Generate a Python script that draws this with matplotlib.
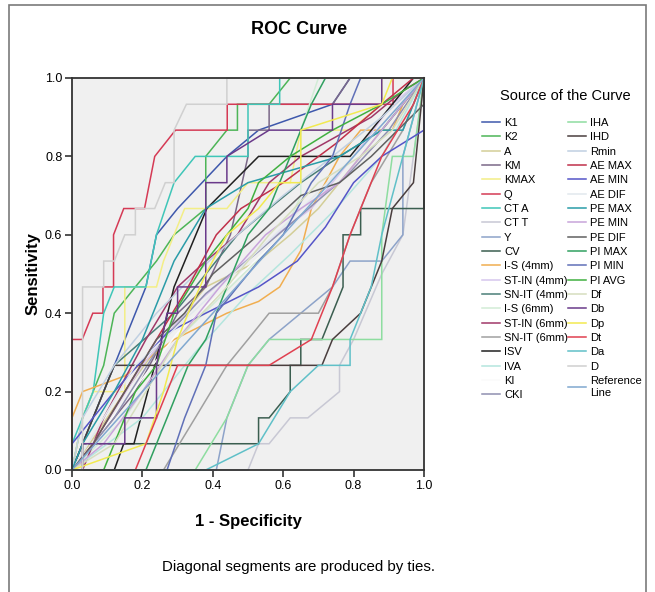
import matplotlib
matplotlib.use("Agg")
import matplotlib.pyplot as plt
from matplotlib.patches import Rectangle

# ---------------- data (1 - specificity, sensitivity) ----------------
k1 = [(0,0),(0.03,0.067),(0.09,0.2),(0.15,0.333),(0.21,0.467),(0.24,0.6),(0.3,0.667),(0.44,0.8),(0.53,0.867),(0.74,0.933),(0.79,1.0),(1,1)]
k2 = [(0,0),(0.03,0.133),(0.09,0.267),(0.12,0.4),(0.18,0.467),(0.24,0.533),(0.29,0.6),(0.38,0.667),(0.38,0.8),(0.44,0.867),(0.47,0.867),(0.47,0.933),(0.56,0.933),(0.62,1.0),(1,1)]
a = [(0,0),(0.15,0.2),(0.26,0.333),(0.38,0.467),(0.53,0.533),(0.62,0.6),(0.7,0.667),(0.82,0.8),(0.88,0.867),(0.94,0.933),(1,1)]
km = [(0,0),(0.06,0.067),(0.18,0.2),(0.26,0.333),(0.3,0.4),(0.38,0.467),(0.45,0.6),(0.5,0.8),(0.5,0.867),(0.56,0.867),(0.56,0.933),(0.74,0.933),(0.79,1.0),(1,1)]
kmax = [(0,0),(0.03,0.133),(0.06,0.2),(0.15,0.2),(0.15,0.467),(0.24,0.467),(0.26,0.533),(0.29,0.6),(0.32,0.667),(0.44,0.667),(0.5,0.733),(0.62,0.733),(0.65,0.867),(0.79,0.867),(0.88,0.933),(0.88,1.0),(1,1)]
q = [(0,0),(0,0.333),(0.029,0.333),(0.059,0.4),(0.088,0.4),(0.088,0.467),(0.118,0.467),(0.118,0.6),(0.147,0.667),(0.206,0.667),(0.235,0.8),(0.294,0.867),(0.441,0.867),(0.441,0.933),(0.912,0.933),(0.912,1.0),(1,1)]
ct_a = [(0,0),(0,0.067),(0.03,0.133),(0.06,0.2),(0.09,0.4),(0.12,0.467),(0.21,0.467),(0.24,0.6),(0.265,0.667),(0.29,0.733),(0.35,0.8),(0.5,0.8),(0.5,0.933),(0.59,0.933),(0.59,1.0),(1,1)]
ct_t = [(0,0),(0.5,0),(0.53,0.067),(0.56,0.067),(0.62,0.133),(0.67,0.133),(0.76,0.2),(0.76,0.267),(0.8,0.333),(0.88,0.5),(0.94,0.6),(1,1)]
y_ = [(0,0),(0.41,0),(0.44,0.133),(0.5,0.267),(0.56,0.333),(0.65,0.4),(0.74,0.467),(0.79,0.533),(0.88,0.533),(0.94,0.6),(0.94,0.8),(1,1)]
cv = [(0,0),(0.03,0),(0.03,0.067),(0.53,0.067),(0.53,0.133),(0.56,0.133),(0.62,0.2),(0.62,0.267),(0.65,0.267),(0.65,0.333),(0.71,0.333),(0.77,0.467),(0.77,0.6),(0.82,0.6),(0.82,0.667),(1.0,0.667),(1,1)]
is_4 = [(0,0),(0,0.133),(0.03,0.2),(0.15,0.24),(0.29,0.333),(0.44,0.4),(0.53,0.43),(0.59,0.467),(0.65,0.56),(0.68,0.667),(0.76,0.8),(0.82,0.867),(0.91,0.867),(0.94,0.933),(1,1)]
stin_4 = [(0,0),(0.06,0.067),(0.2,0.267),(0.32,0.4),(0.45,0.5),(0.58,0.6),(0.68,0.667),(0.8,0.8),(0.91,0.933),(1,1)]
snit_4 = [(0,0),(0.09,0.2),(0.12,0.267),(0.29,0.4),(0.38,0.5),(0.47,0.6),(0.56,0.667),(0.65,0.733),(0.76,0.8),(0.88,0.867),(1,1)]
is_6 = [(0,0),(0.15,0.133),(0.3,0.333),(0.45,0.467),(0.6,0.6),(0.65,0.7),(0.65,0.867),(0.7,1.0),(1,1)]
stin_6 = [(0,0),(0.03,0),(0.09,0.133),(0.21,0.333),(0.3,0.467),(0.38,0.533),(0.47,0.6),(0.56,0.733),(0.65,0.8),(0.85,0.9),(0.94,0.967),(1,1)]
snit_6 = [(0,0),(0.26,0),(0.35,0.133),(0.44,0.267),(0.5,0.333),(0.56,0.4),(0.7,0.4),(0.74,0.467),(0.79,0.6),(0.85,0.733),(0.94,0.867),(1,1)]
isv = [(0,0),(0.12,0),(0.147,0.067),(0.176,0.067),(0.235,0.267),(0.29,0.467),(0.383,0.667),(0.53,0.8),(0.79,0.8),(0.91,0.933),(0.97,1.0),(1,1)]
iva = [(0,0),(0.2,0.133),(0.35,0.3),(0.5,0.45),(0.62,0.55),(0.75,0.667),(0.88,0.8),(1,1)]
ki = [(0,0),(0.3,0.35),(0.6,0.6),(1,1)]
cki = [(0,0),(0.12,0.133),(0.26,0.333),(0.38,0.45),(0.52,0.55),(0.65,0.65),(0.78,0.75),(0.9,0.867),(1,1)]
iha = [(0,0),(0.35,0),(0.44,0.133),(0.5,0.267),(0.56,0.333),(0.88,0.333),(0.88,0.6),(0.91,0.8),(0.97,0.8),(1,1)]
ihd = [(0,0),(0.03,0.067),(0.09,0.2),(0.12,0.267),(0.71,0.267),(0.74,0.333),(0.82,0.4),(0.88,0.533),(0.91,0.667),(0.97,0.733),(1.0,1.0)]
rmin = [(0,0),(0.03,0.133),(0.12,0.267),(0.24,0.4),(0.35,0.5),(0.47,0.6),(0.6,0.7),(0.74,0.8),(0.88,0.9),(1,1)]
ae_max = [(0,0),(0.06,0.067),(0.15,0.2),(0.24,0.333),(0.33,0.467),(0.41,0.6),(0.48,0.667),(0.6,0.733),(0.75,0.833),(0.88,0.933),(0.97,1.0),(1,1)]
ae_min = [(0,0),(0,0.067),(0.12,0.2),(0.27,0.35),(0.38,0.4),(0.53,0.467),(0.64,0.533),(0.72,0.62),(0.8,0.733),(0.88,0.8),(1.0,0.867),(1,1)]
ae_dif = [(0,0),(0.18,0.267),(0.4,0.45),(0.6,0.62),(0.8,0.8),(1,1)]
pe_max = [(0,0),(0.03,0.067),(0.12,0.2),(0.2,0.333),(0.29,0.533),(0.38,0.667),(0.5,0.733),(0.76,0.8),(0.88,0.867),(0.94,0.867),(1,1)]
pe_min = [(0,0),(0.09,0.067),(0.2,0.2),(0.3,0.333),(0.42,0.467),(0.55,0.6),(0.65,0.667),(0.76,0.733),(0.88,0.867),(1,1)]
pe_dif = [(0,0),(0.06,0.067),(0.15,0.2),(0.24,0.333),(0.32,0.4),(0.4,0.5),(0.53,0.6),(0.65,0.7),(0.76,0.733),(0.85,0.8),(1,0.933),(1,1)]
pi_max = [(0,0),(0.21,0),(0.27,0.133),(0.33,0.267),(0.38,0.333),(0.44,0.467),(0.5,0.6),(0.56,0.667),(0.62,0.8),(0.65,0.867),(0.68,0.933),(0.72,1.0),(1,1)]
pi_min = [(0,0),(0.27,0),(0.32,0.133),(0.38,0.267),(0.41,0.4),(0.47,0.467),(0.53,0.533),(0.6,0.6),(0.68,0.733),(0.74,0.8),(0.79,0.933),(0.82,1.0),(1,1)]
pi_avg = [(0,0),(0.09,0),(0.12,0.067),(0.18,0.2),(0.24,0.267),(0.29,0.4),(0.38,0.533),(0.44,0.6),(0.5,0.667),(0.53,0.733),(0.62,0.8),(0.74,0.867),(0.88,0.933),(1,1)]
df = [(0,0),(0.12,0.067),(0.21,0.2),(0.3,0.333),(0.44,0.467),(0.56,0.6),(0.7,0.733),(0.82,0.8),(0.91,0.867),(1,1)]
db = [(0,0),(0.03,0),(0.03,0.067),(0.15,0.067),(0.15,0.133),(0.24,0.133),(0.24,0.267),(0.27,0.4),(0.3,0.4),(0.3,0.467),(0.38,0.467),(0.38,0.733),(0.44,0.733),(0.44,0.8),(0.56,0.867),(0.74,0.867),(0.74,0.933),(0.88,0.933),(0.88,1.0),(1,1)]
dp = [(0,0),(0.21,0.067),(0.26,0.2),(0.3,0.333),(0.33,0.4),(0.38,0.5),(0.44,0.6),(0.53,0.667),(0.59,0.733),(0.65,0.733),(0.65,0.867),(0.88,0.933),(0.91,1.0),(1,1)]
dt = [(0,0),(0.18,0.0),(0.24,0.133),(0.27,0.2),(0.3,0.267),(0.56,0.267),(0.68,0.333),(0.74,0.467),(0.79,0.6),(0.82,0.667),(0.88,0.8),(0.97,0.933),(1,1)]
da = [(0,0),(0.38,0),(0.53,0.067),(0.62,0.2),(0.7,0.267),(0.79,0.267),(0.79,0.333),(0.85,0.467),(0.88,0.6),(0.94,0.8),(1,1)]
d = [(0,0),(0.03,0),(0.03,0.467),(0.09,0.467),(0.09,0.533),(0.12,0.533),(0.15,0.6),(0.18,0.6),(0.18,0.667),(0.235,0.667),(0.265,0.733),(0.29,0.733),(0.29,0.867),(0.325,0.933),(0.44,0.933),(0.44,1.0),(1,1)]
reference = [(0,0),(1,1)]

labels_col1 = ["K1","K2","A","KM","KMAX","Q","CT A","CT T","Y","CV","I-S (4mm)","ST-IN (4mm)",
               "SN-IT (4mm)","I-S (6mm)","ST-IN (6mm)","SN-IT (6mm)","ISV","IVA","KI","CKI"]
labels_col2 = ["IHA","IHD","Rmin","AE MAX","AE MIN","AE DIF","PE MAX","PE MIN","PE DIF","PI MAX",
               "PI MIN","PI AVG","Df","Db","Dp","Dt","Da","D","Reference\nLine"]

curves = [k1,k2,a,km,kmax,q,ct_a,ct_t,y_,cv,is_4,stin_4,snit_4,is_6,stin_6,snit_6,isv,iva,ki,cki,
          iha,ihd,rmin,ae_max,ae_min,ae_dif,pe_max,pe_min,pe_dif,pi_max,pi_min,pi_avg,df,db,dp,dt,da,d,reference]

# ---------------- styles ----------------
colors = ["#3E58AC","#4DB557","#D3CE97","#7B6888","#F3EE86","#D53A55","#3FC6B8","#C8C8D4","#8DA3C9","#3B5E50",
          "#F0AE50","#D6C6EE","#4A7E78","#D2ECD6","#A03868","#A0A0A0","#202020","#B4E6DE","#FAFAFA","#9090B0",
          "#8EDDA0","#4A3E3E","#C0D0E2","#C0304A","#5555C8","#E2E8EE","#2A9CA8","#C8A4DA","#606060","#30A060",
          "#6070B8","#40B040","#D6DEBE","#6A3A8A","#F2EA50","#E04050","#60C0C8","#D0D0D0","#80A8D0"]

fig = plt.figure(figsize=(6.55, 5.92), dpi=100)
fig.patch.set_facecolor("white")
sans = ["Liberation Sans", "DejaVu Sans"]

ax = fig.add_axes([72/655, 1-470/592, 352/655, 392/592])
ax.set_facecolor("#F0F0F0")

handles = []
for pts, col, lab in zip(curves, colors, labels_col1 + labels_col2):
    xs = [p[0] for p in pts]
    ys = [p[1] for p in pts]
    ln, = ax.plot(xs, ys, color=col, lw=1.1, label=lab, solid_joinstyle="miter", clip_on=False)
    handles.append(ln)

ax.set_xlim(0, 1)
ax.set_ylim(0, 1)
ticks = [0.0, 0.2, 0.4, 0.6, 0.8, 1.0]
ax.set_xticks(ticks)
ax.set_yticks(ticks)
ax.set_xticklabels([f"{t:.1f}" for t in ticks], fontfamily=sans, fontsize=9)
ax.set_yticklabels([f"{t:.1f}" for t in ticks], fontfamily=sans, fontsize=9)
ax.tick_params(direction="out", length=5, width=1.2, color="#333333", pad=2)
for s in ax.spines.values():
    s.set_color("#333333")
    s.set_linewidth(1.3)

ax.set_xlabel("1 - Specificity", fontfamily=sans, fontsize=12, fontweight="bold", labelpad=16)
ax.set_ylabel("Sensitivity", fontfamily=sans, fontsize=12, fontweight="bold", labelpad=3)

fig.text(299/655, 1-30/592, "ROC Curve", ha="center", va="center", fontfamily=sans,
         fontsize=13, fontweight="bold")
fig.text(299/655, 1-567/592, "Diagonal segments are produced by ties.", ha="center", va="center",
         fontfamily=sans, fontsize=10.8)
fig.text(565/655, 1-96/592, "Source of the Curve", ha="center", va="center",
         fontfamily=sans, fontsize=10.5)

leg = ax.legend(handles=handles, ncol=2, loc="upper left", bbox_to_anchor=(482/655, 1-118/592),
                bbox_transform=fig.transFigure, frameon=False,
                prop={"family": sans, "size": 8}, handlelength=1.62, handletextpad=0.36,
                columnspacing=0.0, labelspacing=0.39, borderaxespad=0, borderpad=0)

fig.add_artist(Rectangle((9/655, -0.05), 637/655, 1.05 - 5/592, transform=fig.transFigure,
                         fill=False, edgecolor="#7A7A7A", lw=1.2, clip_on=False))

fig.savefig("out.png", dpi=100, facecolor="white")
